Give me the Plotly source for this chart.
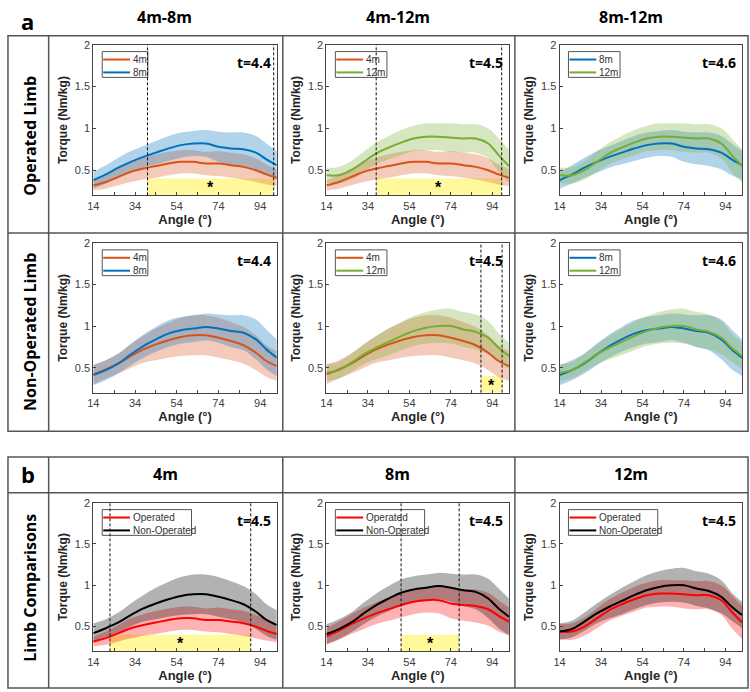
import plotly.graph_objects as go

W, H = 750, 692

angle = [14, 20, 26, 32, 38, 44, 50, 56, 62, 68, 74, 80, 86, 92, 97, 102]

# operated limb (mean / half-width of band)
op4_mean = [0.32, 0.36, 0.42, 0.48, 0.52, 0.55, 0.58, 0.60, 0.60, 0.58, 0.58, 0.56, 0.54, 0.50, 0.45, 0.41]
op4_sd = [0.06, 0.08, 0.10, 0.12, 0.13, 0.14, 0.14, 0.14, 0.14, 0.14, 0.15, 0.15, 0.15, 0.14, 0.12, 0.10]
op8_mean = [0.38, 0.45, 0.53, 0.60, 0.66, 0.71, 0.76, 0.80, 0.82, 0.82, 0.78, 0.76, 0.75, 0.71, 0.63, 0.56]
op8_sd = [0.10, 0.11, 0.12, 0.13, 0.13, 0.14, 0.15, 0.15, 0.15, 0.16, 0.18, 0.19, 0.20, 0.20, 0.19, 0.17]
op12_mean = [0.44, 0.44, 0.50, 0.60, 0.70, 0.77, 0.83, 0.88, 0.90, 0.90, 0.89, 0.88, 0.88, 0.82, 0.68, 0.55]
op12_sd = [0.09, 0.10, 0.11, 0.12, 0.13, 0.14, 0.15, 0.15, 0.16, 0.16, 0.17, 0.17, 0.17, 0.18, 0.20, 0.20]

# non-operated limb
nop4_mean = [0.42, 0.48, 0.55, 0.64, 0.72, 0.78, 0.83, 0.87, 0.89, 0.89, 0.86, 0.82, 0.77, 0.68, 0.58, 0.52]
nop4_sd = [0.12, 0.11, 0.12, 0.14, 0.16, 0.19, 0.21, 0.23, 0.24, 0.24, 0.24, 0.23, 0.22, 0.21, 0.19, 0.18]
nop8_mean = [0.41, 0.47, 0.55, 0.66, 0.76, 0.84, 0.91, 0.95, 0.97, 0.99, 0.97, 0.94, 0.92, 0.84, 0.72, 0.62]
nop8_sd = [0.12, 0.12, 0.12, 0.13, 0.14, 0.15, 0.16, 0.16, 0.16, 0.16, 0.17, 0.19, 0.21, 0.24, 0.24, 0.22]
nop12_mean = [0.44, 0.47, 0.56, 0.66, 0.74, 0.81, 0.88, 0.94, 0.98, 1.00, 1.00, 0.96, 0.93, 0.86, 0.74, 0.64]
nop12_sd = [0.10, 0.10, 0.11, 0.12, 0.14, 0.16, 0.17, 0.18, 0.19, 0.20, 0.21, 0.21, 0.21, 0.20, 0.17, 0.16]

series = {
    'op4': (op4_mean, op4_sd), 'op8': (op8_mean, op8_sd), 'op12': (op12_mean, op12_sd),
    'nop4': (nop4_mean, nop4_sd), 'nop8': (nop8_mean, nop8_sd), 'nop12': (nop12_mean, nop12_sd),
}

colors = {'4m': (217, 83, 25), '8m': (0, 114, 189), '12m': (119, 172, 48),
          'Operated': (255, 0, 0), 'Non-Operated': (0, 0, 0)}

# (row, col, series keys, legend labels, t value, significant angle range)
panels = [
    (0, 0, ['op4', 'op8'], ['4m', '8m'], 't=4.4', [40, 100.5]),
    (0, 1, ['op4', 'op12'], ['4m', '12m'], 't=4.5', [38, 98.5]),
    (0, 2, ['op8', 'op12'], ['8m', '12m'], 't=4.6', None),
    (1, 0, ['nop4', 'nop8'], ['4m', '8m'], 't=4.4', None),
    (1, 1, ['nop4', 'nop12'], ['4m', '12m'], 't=4.5', [88.5, 98.7]),
    (1, 2, ['nop8', 'nop12'], ['8m', '12m'], 't=4.6', None),
    (2, 0, ['op4', 'nop4'], ['Operated', 'Non-Operated'], 't=4.5', [22, 89.5]),
    (2, 1, ['op8', 'nop8'], ['Operated', 'Non-Operated'], 't=4.5', [50, 78]),
    (2, 2, ['op12', 'nop12'], ['Operated', 'Non-Operated'], 't=4.5', None),
]

col_titles = ['4m-8m', '4m-12m', '8m-12m']
b_titles = ['4m', '8m', '12m']
row_titles = ['Operated Limb', 'Non-Operated Limb', 'Limb Comparisons']

col_px = [(88, 273), (323, 507), (558, 742)]
row_px = [(39, 191), (239, 390), (501, 651)]


def px(x):
    return x / W


def py(y):
    return 1 - y / H


fig = go.Figure()
shapes = []
annotations = []
layout = {}

for i, (r, c, keys, labels, tval, sig) in enumerate(panels):
    n = i + 1
    xa = 'x' if n == 1 else f'x{n}'
    ya = 'y' if n == 1 else f'y{n}'
    x0, x1 = col_px[c]
    y0, y1 = row_px[r]
    pw, ph = x1 - x0, y1 - y0

    # shaded bands
    for k, lab in zip(keys, labels):
        m, sd = series[k]
        rgb = colors[lab]
        lo = [a - b for a, b in zip(m, sd)]
        hi = [a + b for a, b in zip(m, sd)]
        fig.add_trace(go.Scatter(x=angle, y=lo, mode='lines', line=dict(width=0, shape='spline'),
                                 showlegend=False, hoverinfo='skip', xaxis=xa, yaxis=ya))
        fig.add_trace(go.Scatter(x=angle, y=hi, mode='lines', line=dict(width=0, shape='spline'),
                                 fill='tonexty', fillcolor=f'rgba({rgb[0]},{rgb[1]},{rgb[2]},0.3)',
                                 showlegend=False, hoverinfo='skip', xaxis=xa, yaxis=ya))
    # mean curves
    for k, lab in zip(keys, labels):
        m, sd = series[k]
        rgb = colors[lab]
        fig.add_trace(go.Scatter(x=angle, y=m, mode='lines', name=lab, showlegend=False,
                                 line=dict(color=f'rgb({rgb[0]},{rgb[1]},{rgb[2]})', width=2, shape='spline'),
                                 xaxis=xa, yaxis=ya))

    layout['xaxis' if n == 1 else f'xaxis{n}'] = dict(
        domain=[px(x0), px(x1)], anchor=ya, range=[14, 102],
        tickvals=[14, 24, 34, 44, 54, 64, 74, 84, 94],
        ticktext=['14', '', '34', '', '54', '', '74', '', '94'],
        ticks='inside', ticklen=3, tickcolor='#444', showline=True, mirror=True,
        linecolor='#444', linewidth=1, showgrid=False, zeroline=False,
        tickfont=dict(size=11, family='Liberation Sans', color='#404040'),
        title=dict(text='<b>Angle (°)</b>', standoff=3,
                   font=dict(size=13, family='Liberation Sans', color='#262626')))
    layout['yaxis' if n == 1 else f'yaxis{n}'] = dict(
        domain=[py(y1), py(y0)], anchor=xa, range=[0.2, 2],
        tickvals=[0.5, 1, 1.5, 2], ticktext=['0.5', '1', '1.5', '2'],
        ticks='inside', ticklen=3, tickcolor='#444', showline=True, mirror=True,
        linecolor='#444', linewidth=1, showgrid=False, zeroline=False,
        tickfont=dict(size=11, family='Liberation Sans', color='#404040'),
        title=dict(text='<b>Torque (Nm/kg)</b>', standoff=4,
                   font=dict(size=12, family='Liberation Sans', color='#262626')))

    # legend box drawn by hand (MATLAB style, compact)
    bw = 90 if r == 2 else (52 if '12m' in labels else 46)
    xd, yd = f'{xa} domain', f'{ya} domain'
    shapes.append(dict(type='rect', xref=xd, yref=yd, x0=9 / pw, x1=(9 + bw) / pw,
                       y0=1 - 33 / ph, y1=1 - 7 / ph, fillcolor='white',
                       line=dict(color='#555', width=1), layer='above'))
    for j, lab in enumerate(labels):
        rgb = colors[lab]
        yy = 1 - (15 + 13 * j) / ph
        shapes.append(dict(type='line', xref=xd, yref=yd, x0=10 / pw, x1=37 / pw, y0=yy, y1=yy,
                           line=dict(color=f'rgb({rgb[0]},{rgb[1]},{rgb[2]})', width=2), layer='above'))
        annotations.append(dict(text=lab, xref=xd, yref=yd, x=38 / pw, y=yy, xanchor='left',
                                yanchor='middle', showarrow=False,
                                font=dict(size=10, family='Liberation Sans', color='#333')))

    annotations.append(dict(text=f'<b>{tval}</b>', xref=xd, yref=yd,
                            x=0.98, y=0.96, xanchor='right', yanchor='top', showarrow=False,
                            font=dict(size=14, family='Open Sans', color='black')))

    if sig:
        shapes.append(dict(type='rect', xref=xa, yref=ya, x0=sig[0], x1=sig[1], y0=0.2, y1=0.4,
                           fillcolor='#FFF99C', line=dict(width=0), layer='below'))
        for s in sig:
            shapes.append(dict(type='line', xref=xa, yref=yd, x0=s, x1=s, y0=0, y1=1,
                               line=dict(color='#111', width=1, dash='3px,2px')))
        annotations.append(dict(text='<b>*</b>', xref=xa, yref=ya, x=(sig[0] + sig[1]) / 2, y=0.29,
                                xanchor='center', yanchor='middle', showarrow=False,
                                font=dict(size=16, family='Liberation Sans', color='black')))

# table frames
frame = dict(color='#555', width=1.5)
for (a, b, cc, d) in [(2, 30, 748, 429), (2, 455, 748, 688)]:
    shapes.append(dict(type='rect', xref='paper', yref='paper', x0=px(a), x1=px(cc), y0=py(d), y1=py(b),
                       line=frame))
for (a, b, cc, d) in [(43, 30, 43, 429), (279, 30, 279, 429), (513, 30, 513, 429), (2, 229, 748, 229),
                      (43, 455, 43, 688), (279, 455, 279, 688), (513, 455, 513, 688), (2, 491, 748, 491)]:
    shapes.append(dict(type='line', xref='paper', yref='paper', x0=px(a), x1=px(cc), y0=py(b), y1=py(d),
                       line=frame))


def label(text, x, y, size, angle=0):
    annotations.append(dict(text=f'<b>{text}</b>', xref='paper', yref='paper', x=px(x), y=py(y),
                            xanchor='center', yanchor='middle', textangle=angle, showarrow=False,
                            font=dict(size=size, family='Open Sans', color='black')))


for t, xc in zip(col_titles, [160, 395, 630]):
    label(t, xc, 11, 16)
for t, xc in zip(b_titles, [161, 395, 630]):
    label(t, xc, 472, 16)
for t, yc in zip(row_titles, [131, 329, 587]):
    label(t, 24, yc, 16, -90)
label('a', 22, 15, 22)
label('b', 22, 472, 22)

fig.update_layout(width=W, height=H, margin=dict(l=0, r=0, t=0, b=0),
                  paper_bgcolor='white', plot_bgcolor='white',
                  shapes=shapes, annotations=annotations, **layout)

fig.write_html("out.html", config={'displayModeBar': False},
               post_script="document.body.style.margin='0px';")
